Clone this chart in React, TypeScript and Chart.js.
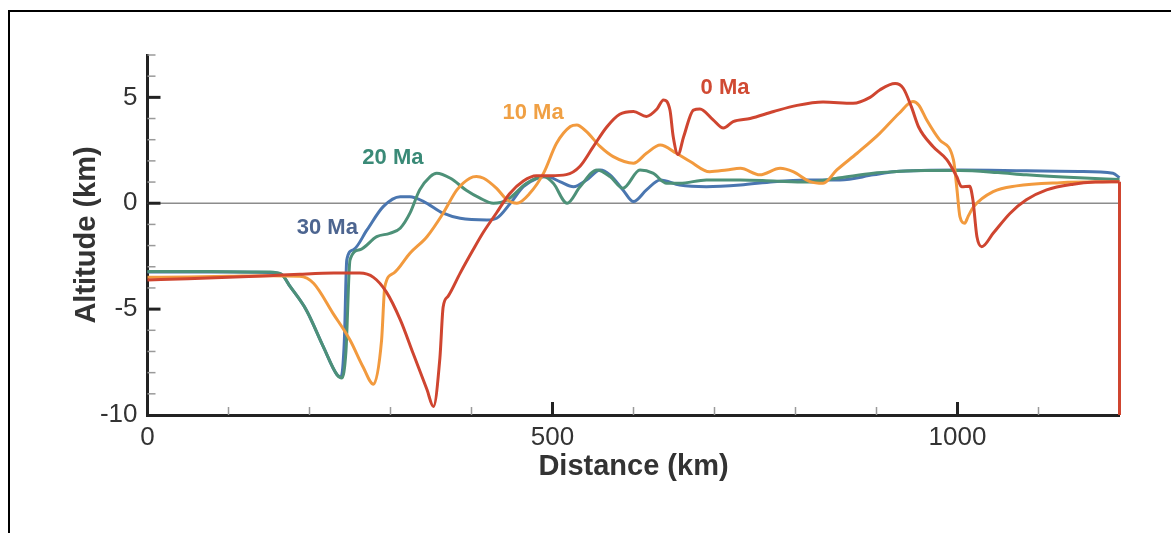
import React, { useEffect, useRef } from "react";
import { Chart, registerables } from "chart.js";

Chart.register(...registerables);

// ---- Data (km, km) ----
const dist0Ma = [0, 50, 100, 150, 188, 230, 262, 279, 295, 312, 328, 345, 353, 361, 365, 371, 386, 402, 415, 431, 447, 464, 480, 497, 517, 534, 550, 567, 583, 600, 616, 629, 637, 645, 649, 655, 662, 674, 682, 698, 711, 723, 744, 773, 802, 834, 871, 892, 904, 923, 933, 943, 952, 970, 987, 999, 1005, 1015, 1019, 1024, 1030, 1044, 1065, 1085, 1110, 1143, 1170, 1200];
const alt0Ma = [-3.62, -3.57, -3.5, -3.42, -3.35, -3.3, -3.3, -3.5, -4.2, -5.5, -7.1, -8.8, -9.6, -7.3, -4.9, -4.4, -3.3, -2.2, -1.35, -0.45, 0.45, 1.05, 1.3, 1.3, 1.35, 1.75, 2.65, 3.6, 4.2, 4.33, 4.1, 4.45, 4.88, 4.4, 3.15, 2.3, 3.15, 4.4, 4.45, 3.95, 3.55, 3.85, 4.0, 4.33, 4.62, 4.78, 4.72, 5.0, 5.35, 5.65, 5.43, 4.56, 3.6, 2.67, 2.05, 1.26, 0.78, 0.8, 0.16, -1.58, -2.05, -1.42, -0.47, 0.16, 0.63, 0.9, 1.0, 1.02];

const dist10Ma = [0, 50, 100, 150, 188, 205, 229, 250, 266, 279, 289, 293, 304, 324, 345, 365, 382, 398, 406, 415, 431, 444, 456, 472, 489, 505, 522, 530, 542, 559, 575, 600, 616, 633, 653, 670, 694, 715, 732, 756, 781, 797, 818, 834, 851, 876, 904, 928, 945, 952, 962, 978, 995, 999, 1003, 1009, 1013, 1020, 1044, 1073, 1127, 1200];
const alt10Ma = [-3.5, -3.48, -3.45, -3.42, -3.45, -3.78, -5.2, -6.46, -7.72, -8.55, -6.46, -3.94, -3.3, -2.36, -1.58, -0.47, 0.63, 1.18, 1.26, 1.18, 0.7, 0.16, 0.0, 0.47, 1.42, 2.83, 3.62, 3.7, 3.38, 2.67, 2.2, 1.89, 2.36, 2.75, 2.36, 1.97, 1.49, 1.57, 1.65, 1.34, 1.65, 1.49, 1.02, 0.94, 1.57, 2.36, 3.3, 4.25, 4.8, 4.64, 3.93, 2.99, 2.05, 0.78, -0.63, -0.94, -0.63, -0.16, 0.55, 0.82, 0.97, 1.02];

const dist20Ma = [0, 50, 100, 150, 165, 176, 196, 217, 234, 240, 245, 250, 262, 283, 299, 312, 324, 336, 349, 357, 374, 394, 410, 427, 444, 468, 489, 501, 518, 534, 555, 571, 587, 608, 624, 641, 657, 690, 732, 773, 814, 855, 896, 921, 960, 1003, 1050, 1085, 1150, 1200];
const alt20Ma = [-3.22, -3.22, -3.23, -3.25, -3.35, -3.93, -5.04, -6.77, -8.1, -8.25, -7.0, -2.68, -2.2, -1.58, -1.42, -1.18, -0.47, 0.63, 1.26, 1.42, 1.18, 0.6, 0.25, 0.0, 0.16, 0.94, 1.26, 0.94, 0.0, 0.78, 1.57, 1.26, 0.71, 1.57, 1.42, 0.94, 0.94, 1.1, 1.1, 1.05, 1.0, 1.2, 1.42, 1.49, 1.55, 1.55, 1.45, 1.34, 1.2, 1.12];

const dist30Ma = [0, 50, 100, 150, 165, 176, 196, 217, 234, 239, 243, 246, 254, 271, 291, 312, 324, 341, 365, 386, 419, 431, 448, 464, 481, 493, 509, 526, 542, 559, 571, 587, 600, 616, 633, 657, 690, 732, 773, 814, 855, 896, 921, 1003, 1085, 1150, 1192, 1200];
const alt30Ma = [-3.25, -3.25, -3.25, -3.27, -3.35, -3.93, -5.04, -6.77, -8.1, -8.2, -6.5, -2.68, -2.2, -1.26, -0.16, 0.31, 0.31, 0.08, -0.47, -0.71, -0.79, -0.71, 0.0, 0.78, 1.18, 1.26, 1.02, 0.78, 1.1, 1.57, 1.34, 0.63, 0.08, 0.63, 1.1, 0.86, 0.78, 0.86, 1.02, 1.1, 1.1, 1.34, 1.49, 1.57, 1.53, 1.5, 1.42, 1.2];

// model boundary at the right edge (0 Ma)
const boundaryDist = [1200, 1200];
const boundaryAlt = [1.02, -10];

// series labels
const seriesNames = ["0 Ma", "10 Ma", "20 Ma", "30 Ma"];
const labelDist = [713, 476, 303, 222];
const labelAlt = [5.45, 4.26, 2.14, -1.17];

// axes
const xMin = 0, xMax = 1200, xStep = 100;
const yMin = -10, yMax = 7, yStep = 1;
const xLabelled = [0, 500, 1000];
const yLabelled = [-10, -5, 0, 5];

const lineColors = ["#cf4530", "#f29a3e", "#4d9178", "#4a76b0"];
const labelColors = ["#d04a33", "#f0a044", "#3a8a77", "#4d6590"];

const toPoints = (xs: number[], ys: number[]) => xs.map((x, i) => ({ x, y: ys[i] }));

const decorPlugin = {
  id: "decor",
  beforeDatasetsDraw(chart: any) {
    const { ctx, scales } = chart;
    const x = scales.x, y = scales.y;
    const y0 = y.getPixelForValue(0);
    ctx.save();
    ctx.strokeStyle = "#8c8c8c";
    ctx.lineWidth = 1.5;
    ctx.beginPath();
    ctx.moveTo(x.getPixelForValue(xMin), y0);
    ctx.lineTo(x.getPixelForValue(xMax), y0);
    ctx.stroke();
    ctx.restore();
  },
  afterDatasetsDraw(chart: any) {
    const { ctx, scales } = chart;
    const x = scales.x, y = scales.y;
    ctx.save();
    // y ticks (inward)
    y.ticks.forEach((t: any) => {
      const v = t.value;
      if (v === yMin) return;
      const py = y.getPixelForValue(v);
      const major = v % 5 === 0;
      ctx.strokeStyle = major ? "#222" : "#9a9a9a";
      ctx.lineWidth = major ? 3 : 1.5;
      ctx.beginPath();
      ctx.moveTo(x.left, py);
      ctx.lineTo(x.left + (major ? 13 : 8), py);
      ctx.stroke();
    });
    // x ticks (inward)
    x.ticks.forEach((t: any) => {
      const v = t.value;
      if (v === xMin || v === xMax) return;
      const px = x.getPixelForValue(v);
      const major = v % 500 === 0;
      ctx.strokeStyle = major ? "#222" : "#9a9a9a";
      ctx.lineWidth = major ? 3 : 1.5;
      ctx.beginPath();
      ctx.moveTo(px, y.bottom);
      ctx.lineTo(px, y.bottom - (major ? 13 : 8));
      ctx.stroke();
    });
    // series labels
    ctx.font = "bold 22px 'Liberation Sans', Arial, sans-serif";
    ctx.textAlign = "center";
    ctx.textBaseline = "middle";
    seriesNames.forEach((name, i) => {
      ctx.fillStyle = labelColors[i];
      ctx.fillText(name, x.getPixelForValue(labelDist[i]), y.getPixelForValue(labelAlt[i]));
    });
    ctx.restore();
  },
};

export default function App() {
  const canvasRef = useRef<HTMLCanvasElement | null>(null);

  useEffect(() => {
    if (!canvasRef.current) return;
    const tickFont = { family: "'Liberation Sans', Arial, sans-serif", size: 26 };
    const titleFont = { family: "'Liberation Sans', Arial, sans-serif", size: 29, weight: "bold" as const, lineHeight: 1.2 };
    const common = { pointRadius: 0, borderWidth: 3, fill: false, cubicInterpolationMode: "monotone" as const, clip: 4 };
    const chart = new Chart(canvasRef.current, {
      type: "line",
      data: {
        datasets: [
          { label: "0 Ma", data: toPoints(dist0Ma, alt0Ma), borderColor: lineColors[0], ...common },
          { label: "0 Ma boundary", data: toPoints(boundaryDist, boundaryAlt), borderColor: lineColors[0], pointRadius: 0, borderWidth: 3, fill: false, clip: false },
          { label: "10 Ma", data: toPoints(dist10Ma, alt10Ma), borderColor: lineColors[1], ...common },
          { label: "20 Ma", data: toPoints(dist20Ma, alt20Ma), borderColor: lineColors[2], ...common },
          { label: "30 Ma", data: toPoints(dist30Ma, alt30Ma), borderColor: lineColors[3], ...common },
        ],
      },
      options: {
        animation: false,
        responsive: false,
        devicePixelRatio: 1,
        layout: { padding: { left: 0, top: 55, right: 51.5, bottom: 0 } },
        plugins: { legend: { display: false }, tooltip: { enabled: false } },
        scales: {
          x: {
            type: "linear",
            min: xMin,
            max: xMax,
            grid: { display: false, drawTicks: false },
            border: { display: true, color: "#222", width: 3 },
            ticks: {
              stepSize: xStep,
              autoSkip: false,
              maxRotation: 0,
              padding: 7,
              color: "#333",
              font: tickFont,
              callback: (v: any) => (xLabelled.includes(Number(v)) ? String(v) : ""),
            },
            title: { display: true, text: "Distance (km)", color: "#333", font: titleFont, padding: { top: 0, bottom: 49 } },
            afterFit: (s: any) => { s.height = 118; },
          },
          y: {
            type: "linear",
            min: yMin,
            max: yMax,
            grid: { display: false, drawTicks: false },
            border: { display: true, color: "#222", width: 3 },
            ticks: {
              stepSize: yStep,
              autoSkip: false,
              padding: 10,
              color: "#333",
              font: tickFont,
              callback: (v: any) => (yLabelled.includes(Number(v)) ? String(v) : ""),
            },
            title: { display: true, text: "Altitude (km)", color: "#333", font: titleFont, padding: { top: 70, bottom: 0 } },
            afterFit: (s: any) => { s.width = 147.5; },
          },
        },
      },
      plugins: [decorPlugin],
    });
    return () => chart.destroy();
  }, []);

  return (
    <div style={{ position: "fixed", left: 0, top: 0, width: 1171, height: 533, background: "#fff" }}>
      <div
        style={{
          position: "absolute",
          left: 8,
          top: 10,
          width: 1163,
          height: 523,
          borderTop: "2px solid #000",
          borderLeft: "2px solid #000",
          boxSizing: "border-box",
        }}
      />
      <canvas ref={canvasRef} width={1171} height={533} style={{ position: "absolute", left: 0, top: 0 }} />
    </div>
  );
}
